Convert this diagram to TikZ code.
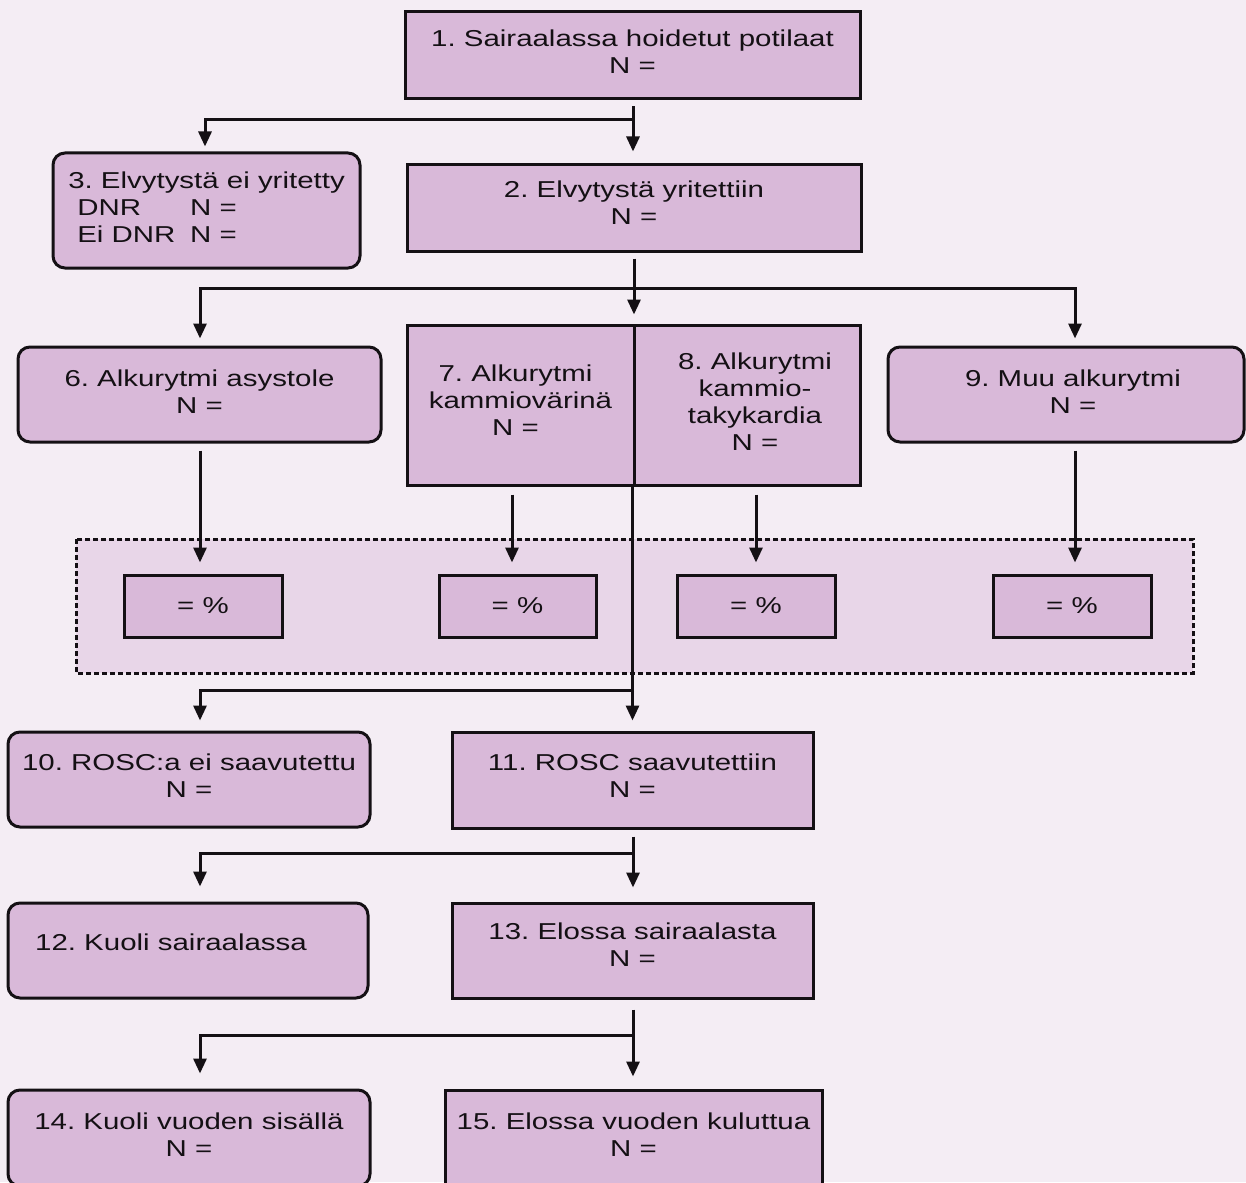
\documentclass[tikz,border=0pt]{standalone}
\usepackage{fontspec}
\setmainfont{Liberation Sans}[FakeStretch=1.28]
\usetikzlibrary{arrows.meta}

\definecolor{pagebg}{HTML}{F4EDF4}
\definecolor{boxfill}{HTML}{D9B9D9}
\definecolor{groupfill}{HTML}{E8D6E8}
\definecolor{ink}{HTML}{141014}

\tikzset{
  every node/.style={font=\frenchspacing\fontsize{23}{27}\selectfont, text=ink},
  sbox/.style={draw=ink, fill=boxfill, line width=3pt, inner sep=0pt, align=center},
  rbox/.style={sbox, rounded corners=12pt},
  lifted/.style={text depth=8pt},
  arr/.style={draw=ink, line width=3pt, -{Triangle[width=13pt,length=15pt]}},
  groupframe/.style={draw=ink, fill=groupfill, line width=3pt, dash pattern=on 5pt off 3pt}
}

\begin{document}
\begin{tikzpicture}[x=1pt, y=-1pt]
  % page area and background
  \fill[pagebg] (0,0) rectangle (1246,1182);
  \useasboundingbox (0,0) rectangle (1246,1182);

  % dotted group holding the percentage boxes
  \draw[groupframe] (76,539) rectangle (1193,673);

  % top of the flow
  \node[sbox, lifted, minimum width=455pt, minimum height=87pt] (b1) at (632.5,55.5)
    {1. Sairaalassa hoidetut potilaat\\N =};
  \node[rbox, text depth=6pt, minimum width=307pt, minimum height=115pt, align=left] (b3) at (206.5,210.5)
    {3. Elvytystä ei yritetty\\
     \hspace*{9pt}\makebox[113pt][l]{DNR}N =\\
     \hspace*{9pt}\makebox[113pt][l]{Ei DNR}N =};
  \node[sbox, text depth=11pt, minimum width=454pt, minimum height=86pt] (b2) at (634,208)
    {2. Elvytystä yritettiin\\N =};

  % initial rhythm
  \node[rbox, text depth=6pt, minimum width=363pt, minimum height=95pt] (b6) at (199.5,394.5)
    {6. Alkurytmi asystole\\N =};
  \node[sbox, text depth=10pt, minimum width=227pt, minimum height=160pt] (b7) at (520.5,405)
    {7. Alkurytmi\hspace*{10pt}\\kammiovärinä\hspace*{10pt}\\N =\hspace*{10pt}};
  \node[sbox, text depth=6pt, minimum width=226pt, minimum height=160pt] (b8) at (747,405)
    {\hspace*{16pt}8. Alkurytmi\\\hspace*{16pt}kammio-\\\hspace*{16pt}takykardia\\\hspace*{16pt}N =};
  \node[rbox, text depth=6pt, minimum width=356pt, minimum height=95pt] (b9) at (1066,394.5)
    {\hspace*{14pt}9. Muu alkurytmi\\\hspace*{14pt}N =};

  % percentage boxes
  \node[sbox, minimum width=158pt, minimum height=62pt] (p1) at (203,606) {= \%};
  \node[sbox, minimum width=157pt, minimum height=62pt] (p2) at (517.5,606) {= \%};
  \node[sbox, minimum width=158pt, minimum height=62pt] (p3) at (756,606) {= \%};
  \node[sbox, minimum width=158pt, minimum height=62pt] (p4) at (1072,606) {= \%};

  % outcomes
  \node[rbox, lifted, minimum width=362pt, minimum height=95pt] (b10) at (189,779.5)
    {10. ROSC:a ei saavutettu\\N =};
  \node[sbox, lifted, minimum width=361pt, minimum height=96pt] (b11) at (632.5,780)
    {11. ROSC saavutettiin\\N =};
  \node[rbox, minimum width=360pt, minimum height=95pt, text depth=16pt] (b12) at (188,950.5)
    {12. Kuoli sairaalassa\hspace*{34pt}};
  \node[sbox, text depth=12pt, minimum width=361pt, minimum height=95pt] (b13) at (632.5,950.5)
    {13. Elossa sairaalasta\\N =};
  \node[rbox, text depth=6pt, minimum width=362pt, minimum height=96pt] (b14) at (189,1138)
    {14. Kuoli vuoden sisällä\\N =};
  \node[sbox, text depth=6pt, minimum width=377pt, minimum height=96pt] (b15) at (633.5,1138)
    {15. Elossa vuoden kuluttua\\N =};

  % branch points
  \coordinate (j1) at (633,120);
  \coordinate (j2) at (634,288);
  \coordinate (j5) at (634,690);
  \coordinate (j6) at (633,853);
  \coordinate (j7) at (633,1035);

  % connectors
  \draw[arr, shorten <=6pt, shorten >=12pt] ([xshift=0.5pt]b1.south) -- ([xshift=0.5pt]b1.south |- b2.north);
  \draw[arr, shorten >=5pt] (j1) -| ([xshift=-1.5pt]b3.north);

  \draw[arr, shorten <=6pt, shorten >=9pt] (b2.south) -- (b2.south |- b7.north);
  \draw[arr, shorten >=7pt] (j2) -| ([xshift=0.5pt]b6.north);
  \draw[arr, shorten >=7pt] (j2) -| ([xshift=9pt]b9.north);

  \draw[arr, shorten <=7pt, shorten >=11pt] ([xshift=0.5pt]b6.south) -- ([xshift=0.5pt]b6.south |- p1.north);
  \draw[arr, shorten <=8pt, shorten >=11pt] ([xshift=-8.5pt]b7.south) -- ([xshift=-8.5pt]b7.south |- p2.north);
  \draw[arr, shorten <=8pt, shorten >=11pt] (p3.north |- b8.south) -- (p3.north);
  \draw[arr, shorten <=7pt, shorten >=11pt] ([xshift=3pt]p4.north |- b9.south) -- ([xshift=3pt]p4.north);

  \draw[arr, shorten >=10pt] (b8.south west) -- (b8.south west |- b11.north);
  \draw[arr, shorten >=10pt] (j5) -| ([xshift=11pt]b10.north);

  \draw[arr, shorten <=7pt, shorten >=14pt] ([xshift=0.5pt]b11.south) -- ([xshift=0.5pt]b11.south |- b13.north);
  \draw[arr, shorten >=15pt] (j6) -| ([xshift=12pt]b12.north);

  \draw[arr, shorten <=10pt, shorten >=12pt] ([xshift=0.5pt]b13.south) -- ([xshift=0.5pt]b13.south |- b15.north);
  \draw[arr, shorten >=15pt] (j7) -| ([xshift=11pt]b14.north);
\end{tikzpicture}
\end{document}
